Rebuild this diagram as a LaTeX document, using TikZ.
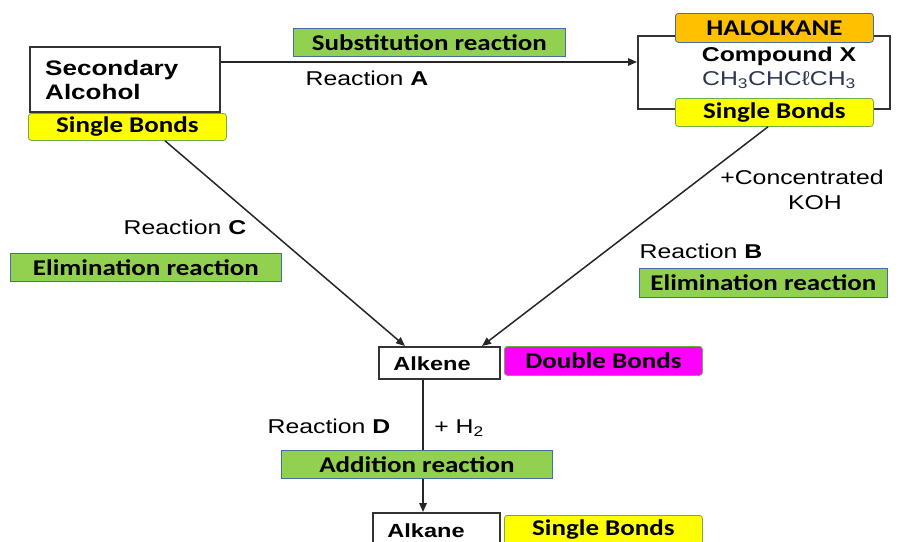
\documentclass[tikz,border=0pt]{standalone}
\usepackage{fontspec}
\setmainfont{Liberation Sans}[FakeStretch=1.24]
\newfontfamily\calfont{Carlito}[FakeStretch=1.2]
\usetikzlibrary{arrows.meta}
\definecolor{lgreen}{RGB}{146,208,80}
\definecolor{lyellow}{RGB}{255,255,0}
\definecolor{lorange}{RGB}{255,192,0}
\definecolor{lmagenta}{RGB}{255,0,255}
\definecolor{tagedge}{RGB}{65,113,156}
\definecolor{yedge}{RGB}{112,173,71}
\definecolor{formula}{RGB}{45,55,80}
\tikzset{
  x=1pt, y=-1pt,
  chem/.style={draw=black!80, line width=1.5pt, fill=white, inner sep=0pt, anchor=north west},
  tag/.style={inner sep=0pt, anchor=north west, font=\calfont\bfseries\fontsize{22.5}{25}\selectfont},
  greentag/.style={tag, fill=lgreen, draw=tagedge, line width=0.8pt},
  yellowtag/.style={tag, fill=lyellow, draw=yedge, line width=0.8pt, rounded corners=3pt},
  lbl/.style={inner sep=0pt, font=\fontsize{20}{23}\selectfont},
  link/.style={line width=1.5pt, draw=black!85},
  arr/.style={link, -{Triangle[length=9pt,width=7.5pt]}},
}
\begin{document}
\begin{tikzpicture}
\useasboundingbox (0,0) rectangle (901,541);

% compounds
\node[chem, minimum width=190pt, minimum height=65pt] (alc) at (29,46) {};
\node[anchor=north west, inner sep=0pt, align=left, font=\bfseries\fontsize{21}{24}\selectfont] (alctxt) at (45,60) {Secondary\\Alcohol};
\node[chem, minimum width=252pt, minimum height=73pt] (cx) at (637,35) {};
\node[chem, minimum width=121pt, minimum height=32pt] (alkene) at (378,346) {};
\node[anchor=base, inner sep=0pt, font=\bfseries\fontsize{19}{22}\selectfont] (alkenetxt) at (432,370) {Alkene};
\node[chem, minimum width=127pt, minimum height=45pt] (alkane) at (372,512) {};
\node[anchor=base, inner sep=0pt, font=\bfseries\fontsize{19}{22}\selectfont] (alkanetxt) at (426,537) {Alkane};

% texts inside compound X
\node[anchor=base, inner sep=0pt, font=\bfseries\fontsize{20}{23}\selectfont] (cxname) at (779,61) {Compound X};
\node[anchor=base, inner sep=0pt, text=formula, font=\fontsize{20}{23}\selectfont] (cxform) at (779,85) {CH\textsubscript{3}CHCℓCH\textsubscript{3}};

% connectors
\draw[arr] (alc.east |- 0,62) -- (cx.west |- 0,62);

\node[yellowtag, minimum width=198pt, minimum height=27pt] (sb1) at (28,113) {Single Bonds};
\node[greentag, fill=lorange, rounded corners=3pt, minimum width=198pt, minimum height=29pt] (halo) at (675,13) {HALOLKANE};
\node[yellowtag, minimum width=198pt, minimum height=28pt] (sb2) at (675,98) {Single Bonds};

\draw[arr] (sb1.south -| 165,0) -- (alkene.north -| 405,0);
\draw[arr] (sb2.south -| 768,0) -- (alkene.north -| 482,0);
\draw[arr] (alkene.south -| 423,0) -- (alkane.north -| 423,0);

% reaction labels
\node[greentag, minimum width=272pt, minimum height=28pt] (subst) at (293,28) {Substitution reaction};
\node[lbl, anchor=base] (ra) at (367,85) {Reaction \textbf{A}};
\node[lbl, anchor=base] (koh1) at (802,184) {+Concentrated};
\node[lbl, anchor=base] (koh2) at (815,209) {KOH};
\node[lbl, anchor=base] (rb) at (701,258) {Reaction \textbf{B}};
\node[greentag, minimum width=248pt, minimum height=29pt] (elimB) at (639,268) {Elimination reaction};
\node[lbl, anchor=base] (rc) at (185,234) {Reaction \textbf{C}};
\node[greentag, minimum width=271pt, minimum height=28pt] (elimC) at (10,253) {Elimination reaction};
\node[lbl, anchor=base] (rd) at (329,433) {Reaction \textbf{D}};
\node[lbl, anchor=base] (h2) at (459,433) {+ H\textsubscript{2}};
\node[greentag, minimum width=271pt, minimum height=28pt] (addn) at (281,450) {Addition reaction};

% bond tags
\node[yellowtag, fill=lmagenta, minimum width=198pt, minimum height=29pt] (db) at (504,346) {Double Bonds};
\node[yellowtag, minimum width=198pt, minimum height=29pt] (sb3) at (504,515) {Single Bonds};
\end{tikzpicture}
\end{document}
